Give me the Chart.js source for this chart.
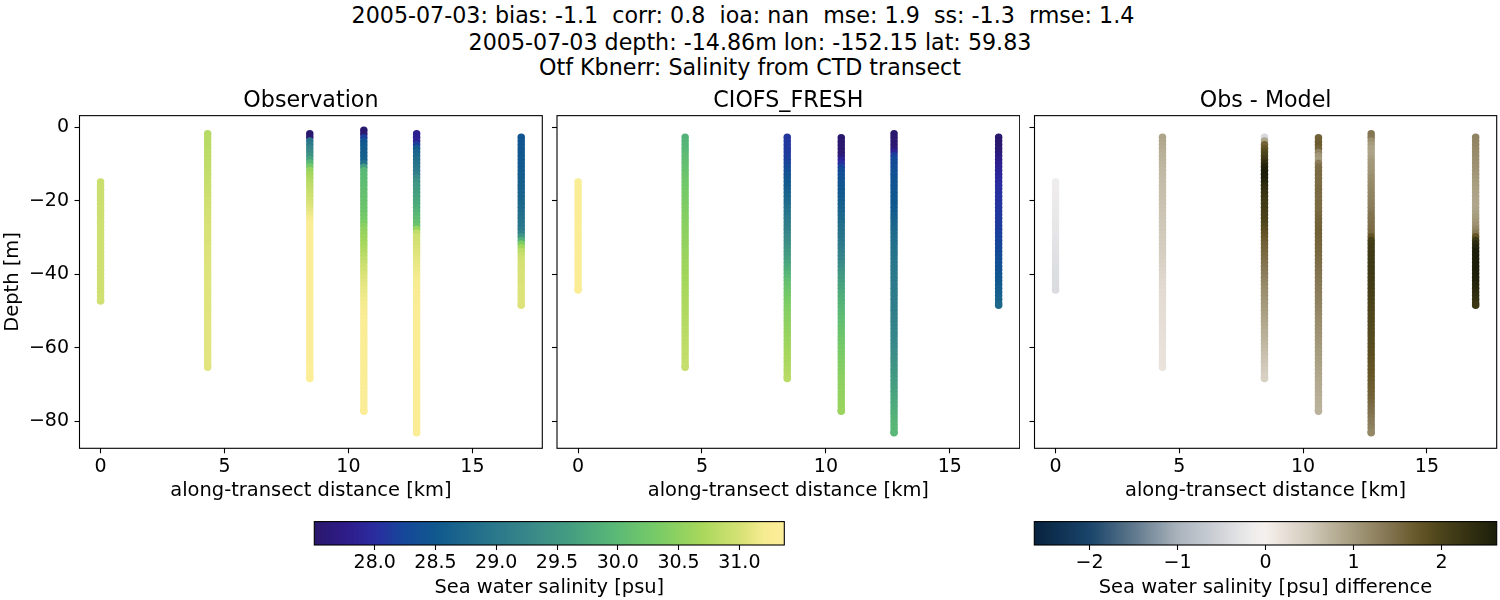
<!DOCTYPE html>
<html><head><meta charset="utf-8">
<script src="https://cdn.jsdelivr.net/npm/chart.js@4"></script>
<style>
html,body{margin:0;padding:0;background:#fff;width:1500px;height:600px;overflow:hidden;font-family:"DejaVu Sans"}
canvas{position:absolute}
.sup{position:absolute;left:0;width:1500px;text-align:center;white-space:pre;font-size:22.2px;line-height:26px;color:#000}
</style></head><body>
<div class="sup" id="s1" style="top:2px"></div>
<div class="sup" id="s2" style="top:29px"></div>
<div class="sup" id="s3" style="top:54px"></div>
<canvas id="p1" width="543" height="420" style="left:0;top:86px"></canvas>
<canvas id="p2" width="480" height="420" style="left:540px;top:86px"></canvas>
<canvas id="p3" width="478" height="420" style="left:1020px;top:86px"></canvas>
<canvas id="c1" width="500" height="90" style="left:300px;top:510px"></canvas>
<canvas id="c2" width="480" height="90" style="left:1020px;top:510px"></canvas>
<script>
const supTitles=["2005-07-03: bias: -1.1  corr: 0.8  ioa: nan  mse: 1.9  ss: -1.3  rmse: 1.4  ","2005-07-03 depth: -14.86m lon: -152.15 lat: 59.83","Otf Kbnerr: Salinity from CTD transect"];
const panelTitles=["Observation","CIOFS_FRESH","Obs - Model"];
const xLabel="along-transect distance [km]";
const yLabel="Depth [m]";
const cbLabel1="Sea water salinity [psu]";
const cbLabel2="Sea water salinity [psu] difference";
const xTicks=[0,5,10,15];
const yTicks=[0,-20,-40,-60,-80];
const cbTicks1=[28,28.5,29,29.5,30,30.5,31];
const cbTicks2=[-2,-1,0,1,2];
const stationKm=[0,4.32,8.44,10.62,12.75,16.97];

const depthObs0=[-14.9,-15.9,-16.9,-17.9,-18.9,-19.9,-20.9,-21.9,-22.9,-23.9,-24.9,-25.9,-26.9,-27.9,-28.9,-29.9,-30.9,-31.9,-32.9,-33.9,-34.9,-35.9,-36.9,-37.9,-38.9,-39.9,-40.9,-41.9,-42.9,-43.9,-44.9,-45.9,-46.9,-47.3];
const depthMod0=[-14.9,-15.9,-16.9,-17.9,-18.9,-19.9,-20.9,-21.9,-22.9,-23.9,-24.9,-25.9,-26.9,-27.9,-28.9,-29.9,-30.9,-31.9,-32.9,-33.9,-34.9,-35.9,-36.9,-37.9,-38.9,-39.9,-40.9,-41.9,-42.9,-43.9,-44.3];
const depth1=[-1.8,-2.8,-3.8,-4.8,-5.8,-6.8,-7.8,-8.8,-9.8,-10.8,-11.8,-12.8,-13.8,-14.8,-15.8,-16.8,-17.8,-18.8,-19.8,-20.8,-21.8,-22.8,-23.8,-24.8,-25.8,-26.8,-27.8,-28.8,-29.8,-30.8,-31.8,-32.8,-33.8,-34.8,-35.8,-36.8,-37.8,-38.8,-39.8,-40.8,-41.8,-42.8,-43.8,-44.8,-45.8,-46.8,-47.8,-48.8,-49.8,-50.8,-51.8,-52.8,-53.8,-54.8,-55.8,-56.8,-57.8,-58.8,-59.8,-60.8,-61.8,-62.8,-63.8,-64.8,-65.3];
const depth2=[-1.8,-2.8,-3.8,-4.8,-5.8,-6.8,-7.8,-8.8,-9.8,-10.8,-11.8,-12.8,-13.8,-14.8,-15.8,-16.8,-17.8,-18.8,-19.8,-20.8,-21.8,-22.8,-23.8,-24.8,-25.8,-26.8,-27.8,-28.8,-29.8,-30.8,-31.8,-32.8,-33.8,-34.8,-35.8,-36.8,-37.8,-38.8,-39.8,-40.8,-41.8,-42.8,-43.8,-44.8,-45.8,-46.8,-47.8,-48.8,-49.8,-50.8,-51.8,-52.8,-53.8,-54.8,-55.8,-56.8,-57.8,-58.8,-59.8,-60.8,-61.8,-62.8,-63.8,-64.8,-65.8,-66.8,-67.8,-68.3];
const depth3=[-0.9,-1.9,-2.9,-3.9,-4.9,-5.9,-6.9,-7.9,-8.9,-9.9,-10.9,-11.9,-12.9,-13.9,-14.9,-15.9,-16.9,-17.9,-18.9,-19.9,-20.9,-21.9,-22.9,-23.9,-24.9,-25.9,-26.9,-27.9,-28.9,-29.9,-30.9,-31.9,-32.9,-33.9,-34.9,-35.9,-36.9,-37.9,-38.9,-39.9,-40.9,-41.9,-42.9,-43.9,-44.9,-45.9,-46.9,-47.9,-48.9,-49.9,-50.9,-51.9,-52.9,-53.9,-54.9,-55.9,-56.9,-57.9,-58.9,-59.9,-60.9,-61.9,-62.9,-63.9,-64.9,-65.9,-66.9,-67.9,-68.9,-69.9,-70.9,-71.9,-72.9,-73.9,-74.9,-75.9,-76.9,-77.2];
const depth4=[-1.8,-2.8,-3.8,-4.8,-5.8,-6.8,-7.8,-8.8,-9.8,-10.8,-11.8,-12.8,-13.8,-14.8,-15.8,-16.8,-17.8,-18.8,-19.8,-20.8,-21.8,-22.8,-23.8,-24.8,-25.8,-26.8,-27.8,-28.8,-29.8,-30.8,-31.8,-32.8,-33.8,-34.8,-35.8,-36.8,-37.8,-38.8,-39.8,-40.8,-41.8,-42.8,-43.8,-44.8,-45.8,-46.8,-47.8,-48.8,-49.8,-50.8,-51.8,-52.8,-53.8,-54.8,-55.8,-56.8,-57.8,-58.8,-59.8,-60.8,-61.8,-62.8,-63.8,-64.8,-65.8,-66.8,-67.8,-68.8,-69.8,-70.8,-71.8,-72.8,-73.8,-74.8,-75.8,-76.8,-77.8,-78.8,-79.8,-80.8,-81.8,-82.8,-83.1];
const depth5=[-2.8,-3.8,-4.8,-5.8,-6.8,-7.8,-8.8,-9.8,-10.8,-11.8,-12.8,-13.8,-14.8,-15.8,-16.8,-17.8,-18.8,-19.8,-20.8,-21.8,-22.8,-23.8,-24.8,-25.8,-26.8,-27.8,-28.8,-29.8,-30.8,-31.8,-32.8,-33.8,-34.8,-35.8,-36.8,-37.8,-38.8,-39.8,-40.8,-41.8,-42.8,-43.8,-44.8,-45.8,-46.8,-47.8,-48.4];

const obs0=[30.92,30.92,30.93,30.93,30.93,30.93,30.94,30.94,30.94,30.94,30.94,30.94,30.95,30.95,30.95,30.95,30.95,30.95,30.95,30.96,30.96,30.96,30.96,30.96,30.96,30.96,30.96,30.96,30.96,30.96,30.96,30.97,30.97,30.97];
const obs1=[30.78,30.79,30.80,30.80,30.81,30.82,30.83,30.84,30.85,30.86,30.87,30.88,30.89,30.90,30.91,30.92,30.93,30.94,30.95,30.96,30.97,30.98,30.99,31.00,31.00,31.01,31.01,31.02,31.02,31.03,31.03,31.04,31.04,31.05,31.05,31.05,31.06,31.06,31.06,31.06,31.07,31.07,31.07,31.07,31.07,31.07,31.07,31.07,31.07,31.07,31.08,31.08,31.08,31.08,31.08,31.08,31.08,31.08,31.08,31.08,31.08,31.08,31.08,31.08,31.08];
const obs2=[27.52,27.55,28.95,29.05,29.20,29.30,29.45,29.65,29.95,30.25,30.55,30.65,30.72,30.78,30.83,30.87,30.91,30.95,30.98,31.02,31.06,31.10,31.14,31.19,31.23,31.26,31.27,31.28,31.28,31.29,31.29,31.29,31.29,31.29,31.29,31.30,31.30,31.30,31.30,31.30,31.30,31.30,31.30,31.30,31.30,31.31,31.31,31.31,31.31,31.31,31.31,31.31,31.31,31.31,31.31,31.32,31.32,31.32,31.32,31.32,31.32,31.32,31.32,31.33,31.33,31.33,31.33,31.33];
const obs3=[27.52,27.55,28.15,28.45,28.52,28.56,28.58,28.60,28.62,28.85,29.55,29.95,30.00,30.02,30.04,30.06,30.08,30.10,30.12,30.14,30.16,30.18,30.20,30.24,30.28,30.35,30.45,30.52,30.56,30.60,30.63,30.67,30.71,30.75,30.80,30.85,30.90,30.95,30.98,31.01,31.04,31.07,31.09,31.11,31.13,31.15,31.17,31.19,31.20,31.22,31.24,31.25,31.26,31.27,31.27,31.28,31.28,31.29,31.29,31.29,31.30,31.30,31.30,31.30,31.30,31.30,31.30,31.30,31.30,31.30,31.31,31.31,31.31,31.31,31.31,31.31,31.31,31.31];
const obs4=[27.82,27.85,27.88,28.15,28.55,28.65,28.72,28.80,28.88,28.95,29.02,29.10,29.30,29.42,29.50,29.56,29.60,29.65,29.70,29.75,29.80,29.88,29.95,30.02,30.08,30.15,30.55,30.85,30.95,30.98,31.00,31.03,31.05,31.07,31.09,31.11,31.13,31.15,31.17,31.19,31.20,31.21,31.22,31.23,31.24,31.25,31.26,31.26,31.27,31.27,31.28,31.28,31.28,31.28,31.28,31.28,31.28,31.28,31.28,31.28,31.29,31.29,31.29,31.29,31.29,31.29,31.29,31.29,31.29,31.29,31.30,31.30,31.30,31.30,31.30,31.30,31.30,31.30,31.30,31.30,31.30,31.30,31.30];
const obs5=[28.45,28.46,28.47,28.48,28.49,28.50,28.52,28.53,28.54,28.55,28.57,28.58,28.59,28.61,28.63,28.65,28.67,28.70,28.72,28.75,28.78,28.82,28.86,28.90,28.95,29.00,29.15,29.45,29.85,30.35,30.65,30.82,30.90,30.96,30.99,31.00,31.01,31.02,31.02,31.03,31.03,31.04,31.04,31.04,31.05,31.05,31.05];

const mod0=[31.26,31.26,31.26,31.26,31.27,31.27,31.27,31.27,31.27,31.27,31.28,31.28,31.28,31.28,31.28,31.28,31.28,31.28,31.29,31.29,31.29,31.29,31.29,31.29,31.29,31.29,31.30,31.30,31.30,31.30,31.30];
const mod1=[29.88,29.90,29.92,29.95,29.98,30.02,30.05,30.08,30.11,30.14,30.17,30.20,30.23,30.26,30.28,30.30,30.32,30.34,30.35,30.37,30.39,30.41,30.42,30.44,30.45,30.47,30.48,30.50,30.51,30.53,30.54,30.55,30.57,30.58,30.60,30.61,30.62,30.63,30.64,30.65,30.67,30.68,30.69,30.70,30.71,30.72,30.73,30.74,30.75,30.76,30.77,30.78,30.79,30.80,30.81,30.82,30.83,30.84,30.85,30.86,30.87,30.88,30.89,30.90];
const mod2=[28.08,28.09,28.10,28.11,28.12,28.14,28.16,28.20,28.26,28.33,28.40,28.45,28.49,28.53,28.58,28.63,28.68,28.73,28.79,28.85,28.91,28.96,29.01,29.06,29.10,29.15,29.20,29.26,29.32,29.38,29.44,29.50,29.56,29.62,29.68,29.75,29.82,29.90,29.98,30.06,30.12,30.17,30.22,30.27,30.32,30.35,30.38,30.41,30.43,30.46,30.48,30.50,30.52,30.54,30.56,30.58,30.60,30.62,30.64,30.66,30.68,30.70,30.72,30.74,30.76,30.78,30.80];
const mod3=[27.52,27.53,27.54,27.55,27.56,27.62,27.85,28.00,28.20,28.30,28.36,28.40,28.44,28.47,28.50,28.52,28.55,28.58,28.60,28.64,28.67,28.71,28.75,28.79,28.83,28.87,28.91,28.95,28.98,29.02,29.07,29.12,29.17,29.23,29.29,29.35,29.42,29.50,29.55,29.60,29.65,29.70,29.75,29.80,29.84,29.88,29.92,29.96,30.00,30.03,30.07,30.10,30.13,30.16,30.19,30.22,30.25,30.28,30.31,30.34,30.36,30.38,30.40,30.42,30.44,30.46,30.48,30.50,30.51,30.52,30.53,30.54,30.55,30.56,30.57,30.58];
const mod4=[27.52,27.53,27.54,27.55,27.58,27.85,28.15,28.25,28.30,28.33,28.36,28.39,28.41,28.43,28.44,28.45,28.46,28.47,28.48,28.50,28.52,28.55,28.58,28.62,28.66,28.70,28.74,28.77,28.80,28.82,28.84,28.86,28.88,28.90,28.92,28.94,28.96,28.98,29.00,29.01,29.02,29.03,29.04,29.05,29.06,29.07,29.08,29.09,29.10,29.11,29.13,29.15,29.17,29.19,29.21,29.23,29.25,29.27,29.30,29.33,29.36,29.39,29.42,29.45,29.48,29.51,29.54,29.57,29.60,29.63,29.66,29.69,29.72,29.75,29.78,29.81,29.84,29.87,29.90,29.92,29.94,29.95,29.96];
const mod5=[27.52,27.53,27.54,27.55,27.60,27.70,27.75,27.80,27.85,27.88,27.91,27.94,27.97,28.00,28.02,28.04,28.05,28.06,28.07,28.08,28.09,28.10,28.11,28.12,28.13,28.15,28.17,28.19,28.21,28.23,28.25,28.27,28.30,28.33,28.36,28.39,28.42,28.45,28.48,28.51,28.54,28.57,28.60,28.63,28.66,28.70,28.75];

const dif0=[-0.14,-0.15,-0.16,-0.17,-0.18,-0.18,-0.19,-0.20,-0.21,-0.22,-0.22,-0.23,-0.24,-0.25,-0.26,-0.27,-0.28,-0.29,-0.30,-0.31,-0.32,-0.33,-0.34,-0.35,-0.36,-0.37,-0.38,-0.38,-0.39,-0.40,-0.40];
const dif1=[0.90,0.88,0.86,0.83,0.80,0.78,0.75,0.73,0.71,0.69,0.67,0.66,0.65,0.64,0.63,0.62,0.61,0.60,0.59,0.58,0.57,0.56,0.55,0.54,0.53,0.52,0.51,0.50,0.49,0.48,0.47,0.46,0.45,0.43,0.41,0.39,0.37,0.35,0.33,0.31,0.30,0.29,0.28,0.27,0.26,0.26,0.25,0.25,0.24,0.24,0.23,0.23,0.22,0.22,0.21,0.21,0.20,0.20,0.19,0.19,0.18,0.18,0.18,0.17];
const dif2=[-0.45,0.90,1.60,1.75,1.90,2.00,2.15,2.35,2.50,2.60,2.62,2.60,2.50,2.42,2.35,2.28,2.22,2.17,2.12,2.10,2.08,2.05,2.02,1.98,1.92,1.86,1.80,1.74,1.68,1.62,1.58,1.55,1.52,1.48,1.44,1.40,1.36,1.32,1.28,1.24,1.20,1.16,1.12,1.10,1.07,1.04,1.01,0.98,0.95,0.92,0.89,0.86,0.83,0.80,0.77,0.74,0.71,0.68,0.65,0.62,0.59,0.56,0.53,0.50,0.47,0.44,0.42];
const dif3=[1.62,1.65,1.68,1.60,1.25,1.05,1.00,1.35,1.48,1.50,1.52,1.50,1.50,1.50,1.52,1.52,1.50,1.50,1.52,1.50,1.52,1.55,1.58,1.60,1.60,1.62,1.62,1.60,1.58,1.58,1.56,1.55,1.53,1.50,1.48,1.46,1.44,1.42,1.40,1.38,1.36,1.34,1.32,1.30,1.28,1.26,1.24,1.22,1.20,1.18,1.16,1.14,1.12,1.10,1.08,1.06,1.04,1.02,1.00,0.99,0.97,0.95,0.93,0.91,0.90,0.88,0.87,0.85,0.84,0.83,0.82,0.80,0.79,0.78,0.76,0.75];
const dif4=[1.40,1.38,1.10,1.00,0.92,0.90,0.92,0.98,1.02,1.05,1.05,1.08,1.12,1.15,1.18,1.20,1.22,1.25,1.25,1.28,1.30,1.35,1.40,1.42,1.44,1.46,1.48,1.52,1.75,2.05,2.12,2.14,2.15,2.16,2.16,2.17,2.17,2.16,2.16,2.15,2.14,2.12,2.10,2.08,2.06,2.04,2.02,2.00,1.98,1.96,1.95,1.94,1.93,1.92,1.91,1.90,1.89,1.88,1.87,1.86,1.85,1.83,1.81,1.79,1.77,1.75,1.73,1.71,1.69,1.67,1.65,1.62,1.59,1.55,1.51,1.47,1.43,1.39,1.35,1.31,1.27,1.23,1.20];
const dif5=[1.25,1.24,1.22,1.20,1.18,1.16,1.14,1.12,1.10,1.08,1.05,1.02,1.00,0.98,0.95,0.93,0.91,0.90,0.89,0.88,0.92,0.96,1.00,1.05,1.10,1.20,1.35,1.75,2.20,2.40,2.50,2.62,2.65,2.66,2.65,2.64,2.62,2.60,2.58,2.56,2.52,2.48,2.42,2.36,2.30,2.25,2.20];

const salMin=27.503, salMax=31.37, difMin=-2.627, difMax=2.627;
const haline=[[0,'#2a186c'],[.07,'#2e1c8a'],[.13,'#2b2ca0'],[.19,'#15479a'],[.26,'#10588e'],[.35,'#23708b'],[.45,'#37868a'],[.55,'#459f80'],[.64,'#5ab976'],[.73,'#78cb66'],[.82,'#a6d75b'],[.91,'#d8e276'],[.96,'#f8ec93'],[1,'#fdee99']];
const diffMap=[[0,'#07233f'],[.12,'#19446a'],[.215,'#5f788c'],[.31,'#aab3bc'],[.405,'#d2d5da'],[.47,'#eeecec'],[.5,'#f5f0ed'],[.56,'#e0d8cd'],[.595,'#d2cabb'],[.69,'#a59b7d'],[.77,'#82734f'],[.833,'#655526'],[.88,'#4b431a'],[1,'#1c1e0a']];

function rgb(h){return [1,3,5].map(i=>parseInt(h.substr(i,2),16));}
function colorOf(map,f){
  f=Math.max(0,Math.min(1,f));
  for(let i=1;i<map.length;i++){
    if(f<=map[i][0]){
      const a=map[i-1],b=map[i],t=(f-a[0])/(b[0]-a[0]),A=rgb(a[1]),B=rgb(b[1]);
      return 'rgb('+A.map((v,k)=>Math.round(v+(B[k]-v)*t)).join(',')+')';
    }
  }
  return map[map.length-1][1];
}
const depthsObs=[depthObs0,depth1,depth2,depth3,depth4,depth5];
const depthsMod=[depthMod0,depth1.slice(1),depth2.slice(1),depth3.slice(2),depth4,depth5];
function points(depths,vals){
  const out=[];
  vals.forEach((arr,s)=>arr.forEach((v,i)=>out.push({x:stationKm[s],y:depths[s][i],v})));
  return out;
}
const frame={id:'frame',afterDraw(c){
  const a=c.chartArea,g=c.ctx;g.save();g.strokeStyle='#000';g.lineWidth=1.1;
  g.strokeRect(a.left,a.top,a.right-a.left,a.bottom-a.top);g.restore();}};
const minusFmt=v=>String(v).replace('-','\u2212');
const tickFont={family:'"DejaVu Sans"',size:19};
const labelFont={family:'"DejaVu Sans"',size:19.44};
function panel(id,title,data,map,lo,hi,yW,padR,showY){
  new Chart(document.getElementById(id),{
    type:'scatter',
    data:{datasets:[{data,pointRadius:3.75,pointHoverRadius:3.75,borderWidth:0,pointBorderWidth:0,
      backgroundColor:c=>colorOf(map,(c.raw.v-lo)/(hi-lo))}]},
    plugins:[frame],
    options:{responsive:false,animation:false,devicePixelRatio:1,events:[],
      layout:{autoPadding:false,padding:{left:0,right:padR,top:0,bottom:0}},
      plugins:{legend:{display:false},tooltip:{enabled:false},
        title:{display:true,text:title,fullSize:false,color:'#000',font:{family:'"DejaVu Sans"',size:22.2,weight:'normal'},padding:{top:2,bottom:1}}},
      scales:{
        x:{type:'linear',min:-0.85,max:17.82,
          afterBuildTicks(s){s.ticks=xTicks.map(value=>({value}));},
          afterFit(s){s.height=57.7;},
          border:{display:false},
          grid:{drawOnChartArea:false,drawTicks:true,tickLength:5,color:'#000',tickWidth:1.1},
          ticks:{color:'#000',font:tickFont,padding:2,maxRotation:0,autoSkip:false,callback:v=>minusFmt(v)},
          title:{display:true,text:xLabel,color:'#000',font:labelFont,padding:{top:0,bottom:3}}},
        y:{type:'linear',min:-87.3,max:3.1,
          afterBuildTicks(s){s.ticks=yTicks.map(value=>({value}));},
          afterFit(s){s.width=yW;},
          border:{display:false},
          grid:{drawOnChartArea:false,drawTicks:true,tickLength:5,color:'#000',tickWidth:1.1},
          ticks:{color:'#000',font:tickFont,padding:5.5,autoSkip:false,callback:v=>showY?minusFmt(v):''},
          title:{display:showY,text:yLabel,color:'#000',font:labelFont,padding:{top:1,bottom:0}}}
      }}
  });
}
function colorbar(id,label,map,lo,hi,ticks,fmt,padL,padR){
  new Chart(document.getElementById(id),{
    type:'bar',
    data:{labels:['scale'],datasets:[{data:[[lo,hi]],borderWidth:0,barPercentage:1,categoryPercentage:1,
      backgroundColor:c=>{
        const a=c.chart.chartArea; if(!a) return '#888';
        const g=c.chart.ctx.createLinearGradient(a.left,0,a.right,0);
        for(let i=0;i<=64;i++){g.addColorStop(i/64,colorOf(map,i/64));}
        return g;}}]},
    plugins:[frame],
    options:{responsive:false,animation:false,devicePixelRatio:1,events:[],indexAxis:'y',
      layout:{autoPadding:false,padding:{left:padL,right:padR,top:11.6,bottom:0}},
      plugins:{legend:{display:false},tooltip:{enabled:false},title:{display:false}},
      scales:{
        y:{type:'category',display:false},
        x:{type:'linear',min:lo,max:hi,
          afterBuildTicks(s){s.ticks=ticks.map(value=>({value}));},
          afterFit(s){s.height=55;},
          border:{display:false},
          grid:{drawOnChartArea:false,drawTicks:true,tickLength:5,color:'#000',tickWidth:1.1},
          ticks:{color:'#000',font:tickFont,padding:2,maxRotation:0,autoSkip:false,callback:fmt},
          title:{display:true,text:label,color:'#000',font:labelFont,padding:{top:0,bottom:0}}}
      }}
  });
}
document.getElementById('s1').textContent=supTitles[0];
document.getElementById('s2').textContent=supTitles[1];
document.getElementById('s3').textContent=supTitles[2];
panel('p1',panelTitles[0],points(depthsObs,[obs0,obs1,obs2,obs3,obs4,obs5]),haline,salMin,salMax,79.5,0.7,true);
panel('p2',panelTitles[1],points(depthsMod,[mod0,mod1,mod2,mod3,mod4,mod5]),haline,salMin,salMax,17,0.3,false);
panel('p3',panelTitles[2],points(depthsMod,[dif0,dif1,dif2,dif3,dif4,dif5]),diffMap,difMin,difMax,14.5,1.3,false);
colorbar('c1',cbLabel1,haline,salMin,salMax,cbTicks1,v=>v.toFixed(1),14.3,15.7);
colorbar('c2',cbLabel2,diffMap,difMin,difMax,cbTicks2,minusFmt,14.3,3.3);
</script>
</body></html>
